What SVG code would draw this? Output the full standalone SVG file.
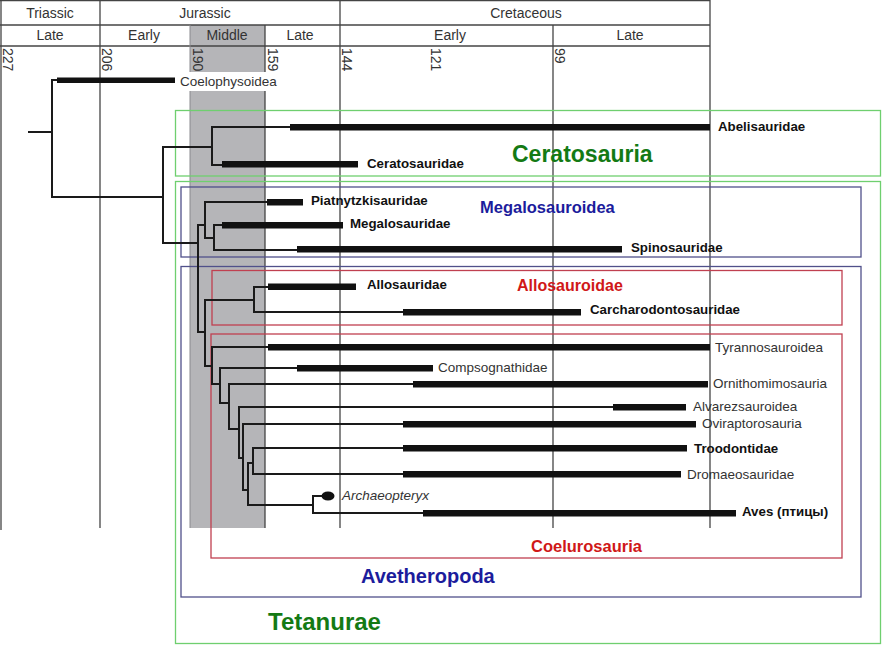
<svg xmlns="http://www.w3.org/2000/svg" width="893" height="654" viewBox="0 0 893 654">
<style>
  .hdr{font-family:"Liberation Sans",Arial,sans-serif;font-size:14px;fill:#333;text-anchor:middle}
  .num{font-family:"Liberation Sans",Arial,sans-serif;font-size:14px;fill:#333}
  .tl{stroke:#444;stroke-width:1.3;fill:none}
  .tree{stroke:#1a1a1a;stroke-width:2;fill:none;stroke-linecap:square}
  .bar{fill:#111}
  .lb{font-family:"Liberation Sans",Arial,sans-serif;font-size:13.3px;font-weight:bold;fill:#111}
  .lr{font-family:"Liberation Sans",Arial,sans-serif;font-size:13.5px;fill:#333}
  .green{fill:none;stroke:#6fcf6f;stroke-width:1.3}
  .blue{fill:none;stroke:#50508a;stroke-width:1.3}
  .red{fill:none;stroke:#c04050;stroke-width:1.3}
  .clade{font-family:"Liberation Sans",Arial,sans-serif;font-weight:bold}
</style>
<rect x="0" y="0" width="893" height="654" fill="#fff"/>

<g id="timescale">
  <rect x="190" y="25" width="75" height="503" fill="#b5b5b8"/>
  <line class="tl" x1="0" y1="0.7" x2="710" y2="0.7"/>
  <line class="tl" x1="0" y1="25" x2="710" y2="25"/>
  <line class="tl" x1="0" y1="46" x2="710" y2="46"/>
  <line class="tl" x1="1" y1="0" x2="1" y2="530"/>
  <line class="tl" x1="100" y1="0" x2="100" y2="528"/>
  <line class="tl" x1="340" y1="0" x2="340" y2="528"/>
  <line class="tl" x1="710" y1="0" x2="710" y2="528"/>
  <line class="tl" x1="553" y1="25" x2="553" y2="528"/>
  <line x1="190" y1="25" x2="190" y2="528" stroke="#8a8a8e" stroke-width="1"/>
  <line class="tl" x1="265" y1="25" x2="265" y2="528"/>
  <rect x="178" y="72" width="104" height="19" fill="#fff"/>
  <text class="hdr" x="50" y="18">Triassic</text>
  <text class="hdr" x="205" y="18">Jurassic</text>
  <text class="hdr" x="526" y="18">Cretaceous</text>
  <text class="hdr" x="50" y="40">Late</text>
  <text class="hdr" x="144" y="40">Early</text>
  <text class="hdr" x="227" y="40">Middle</text>
  <text class="hdr" x="300" y="40">Late</text>
  <text class="hdr" x="450" y="40">Early</text>
  <text class="hdr" x="630" y="40">Late</text>
  <text class="num" transform="translate(3,48) rotate(90)">227</text>
  <text class="num" transform="translate(102,48) rotate(90)">206</text>
  <text class="num" transform="translate(193,48) rotate(90)">190</text>
  <text class="num" transform="translate(268,48) rotate(90)">159</text>
  <text class="num" transform="translate(342,48) rotate(90)">144</text>
  <text class="num" transform="translate(431,48) rotate(90)">121</text>
  <text class="num" transform="translate(555,48) rotate(90)">99</text>
</g>

<g id="clade-Ceratosauria">
  <rect class="green" x="175.5" y="110.5" width="705" height="65.5"/>
  <text class="clade" x="512" y="162" font-size="23" fill="#147a14">Ceratosauria</text>
</g>
<g id="clade-Tetanurae">
  <rect class="green" x="175.5" y="181.5" width="705" height="462"/>
  <text class="clade" x="268" y="630" font-size="24" fill="#147a14">Tetanurae</text>
</g>
<g id="clade-Megalosauroidea">
  <rect class="blue" x="181" y="187" width="680" height="70"/>
  <text class="clade" x="480" y="213" font-size="16.5" fill="#1c1c9c">Megalosauroidea</text>
</g>
<g id="clade-Avetheropoda">
  <rect class="blue" x="181" y="266.5" width="680" height="330.5"/>
  <text class="clade" x="361" y="583" font-size="20" fill="#1c1c9c">Avetheropoda</text>
</g>
<g id="clade-Allosauroidae">
  <rect class="red" x="212" y="270.5" width="630" height="54.5"/>
  <text class="clade" x="517" y="291" font-size="16" fill="#d01818">Allosauroidae</text>
</g>
<g id="clade-Coelurosauria">
  <rect class="red" x="211" y="334" width="631" height="224"/>
  <text class="clade" x="531" y="552" font-size="16.5" fill="#d01818">Coelurosauria</text>
</g>

<g id="connectors" class="tree">
  <path d="M29,132 H52 M52,80 V197 M52,80 H57 M52,197 H163"/>
  <path d="M163,147 V243 M163,147 H212 M212,127 V165 M212,127 H290 M212,165 H222"/>
  <path d="M163,243 H198 M198,225 V332 M198,225 H205 M205,202 V238 M205,202 H267 M205,238 H214 M214,225 V250 M214,225 H222 M214,250 H297"/>
  <path d="M198,332 H205 M205,300 V366 M205,300 H254 M254,287 V312 M254,287 H268 M254,312 H403"/>
  <path d="M205,366 H212 M212,347 V384 M212,347 H268 M212,384 H220 M220,368 V403 M220,368 H297 M220,403 H229 M229,384 V429 M229,384 H413"/>
  <path d="M229,429 H239 M239,407 V458 M239,407 H613 M239,458 H243 M243,424 V490 M243,424 H403 M243,490 H248 M248,463 V505 M248,463 H253 M253,448 V474 M253,448 H403 M253,474 H403"/>
  <path d="M248,505 H313 M313,496 V513 M313,496 H322 M313,513 H423"/>
</g>

<g id="Coelophysoidea"><rect class="bar" x="57" y="77.5" width="118" height="5.5"/><text class="lr" x="180" y="86" font-size="14">Coelophysoidea</text></g>
<g id="Abelisauridae"><rect class="bar" x="290" y="124" width="420" height="6.5"/><text class="lb" x="718" y="131">Abelisauridae</text></g>
<g id="Ceratosauridae"><rect class="bar" x="222" y="161" width="136" height="6.5"/><text class="lb" x="367" y="168">Ceratosauridae</text></g>
<g id="Piatnytzkisauridae"><rect class="bar" x="267" y="199" width="36" height="6.5"/><text class="lb" x="311" y="205">Piatnytzkisauridae</text></g>
<g id="Megalosauridae"><rect class="bar" x="222" y="222" width="121" height="6.5"/><text class="lb" x="350" y="228">Megalosauridae</text></g>
<g id="Spinosauridae"><rect class="bar" x="297" y="246" width="325" height="6.5"/><text class="lb" x="631" y="252">Spinosauridae</text></g>
<g id="Allosauridae"><rect class="bar" x="268" y="283.5" width="88" height="6.5"/><text class="lb" x="367" y="289">Allosauridae</text></g>
<g id="Carcharodontosauridae"><rect class="bar" x="403" y="309" width="178" height="6.5"/><text class="lb" x="590" y="314">Carcharodontosauridae</text></g>
<g id="Tyrannosauroidea"><rect class="bar" x="268" y="344" width="442" height="6.5"/><text class="lr" x="715" y="352">Tyrannosauroidea</text></g>
<g id="Compsognathidae"><rect class="bar" x="297" y="365" width="136" height="6.5"/><text class="lr" x="438" y="372">Compsognathidae</text></g>
<g id="Ornithomimosauria"><rect class="bar" x="413" y="381" width="295" height="6.5"/><text class="lr" x="713" y="388">Ornithomimosauria</text></g>
<g id="Alvarezsauroidea"><rect class="bar" x="613" y="404" width="73" height="6.5"/><text class="lr" x="693" y="411">Alvarezsauroidea</text></g>
<g id="Oviraptorosauria"><rect class="bar" x="403" y="421" width="293" height="6.5"/><text class="lr" x="702" y="428">Oviraptorosauria</text></g>
<g id="Troodontidae"><rect class="bar" x="403" y="445" width="284" height="6.5"/><text class="lb" x="694" y="453">Troodontidae</text></g>
<g id="Dromaeosauridae"><rect class="bar" x="403" y="471" width="278" height="6.5"/><text class="lr" x="687" y="479">Dromaeosauridae</text></g>
<g id="Archaeopteryx"><ellipse cx="328" cy="496" rx="6.5" ry="4.5" fill="#111"/><text class="lr" x="342" y="500" font-style="italic">Archaeopteryx</text></g>
<g id="Aves"><rect class="bar" x="423" y="510" width="313" height="6.5"/><text class="lb" x="742" y="516">Aves (птицы)</text></g>
</svg>
